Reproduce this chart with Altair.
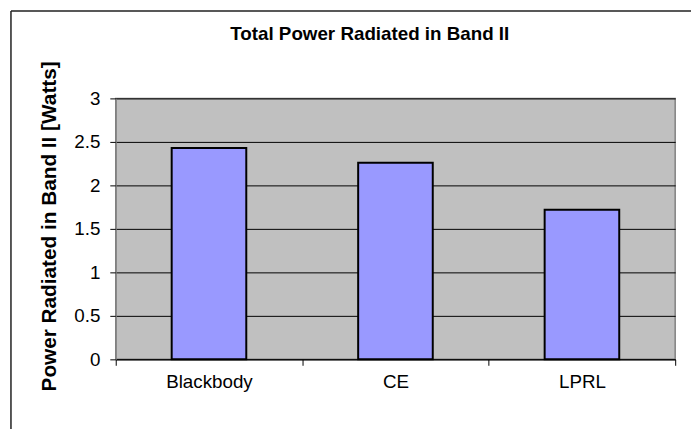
import altair as alt
import pandas as pd

categories = ["Blackbody", "CE", "LPRL"]
power_watts = [2.43, 2.26, 1.72]
y_ticks = [0, 0.5, 1, 1.5, 2, 2.5, 3]

title_text = "Total Power Radiated in Band II"
y_title = "Power Radiated in Band II [Watts]"

df = pd.DataFrame({"category": categories, "power": power_watts})
FONT = "Liberation Sans"

base = alt.Chart(df)

bars = base.mark_bar(
    color="#9999FF", stroke="black", strokeWidth=2,
    width=alt.RelativeBandSize(0.4)
).encode(
    x=alt.X("category:N", sort=categories, title=None,
            scale=alt.Scale(paddingInner=0, paddingOuter=0),
            axis=alt.Axis(labelAngle=0, tickBand="extent", grid=False,
                          domainColor="black", tickColor="black", tickSize=6,
                          labelPadding=7, labelFontSize=19, labelFont=FONT,
                          labelColor="black")),
    y=alt.Y("power:Q", title=y_title,
            scale=alt.Scale(domain=[0, 3], nice=False),
            axis=alt.Axis(values=y_ticks, format="~g", grid=True, gridColor="black",
                          gridWidth=1, domainColor="#808080", tickColor="black",
                          tickSize=6, labelPadding=10, labelFontSize=19,
                          labelFont=FONT, labelColor="black",
                          titleFont=FONT, titleFontSize=21, titleFontWeight="bold",
                          titleColor="black", titleAngle=-90, titleX=-67, titleY=129,
                          titleAlign="center", titleBaseline="middle")),
)

frame = alt.Chart(alt.Data(values=[{}]))
left_line = frame.mark_rule(color="#202020", strokeWidth=1.5).encode(
    x=alt.value(-106), y=alt.value(-88.5), y2=alt.value(345))
top_line = frame.mark_rule(color="#202020", strokeWidth=1.5).encode(
    x=alt.value(-106), x2=alt.value(600), y=alt.value(-88.5))

title = frame.mark_text(
    text=title_text, font=FONT, fontSize=19, fontWeight="bold",
    color="black", align="center", baseline="middle"
).encode(x=alt.value(257), y=alt.value(-65))

chart = alt.layer(bars, left_line, top_line, title).properties(
    width=566, height=264,
    autosize=alt.AutoSizeParams(type="none"),
    padding={"left": 109, "top": 89, "right": 16, "bottom": 68},
    background="white",
).configure_view(
    fill="#C0C0C0", stroke="#808080", strokeWidth=1.5
)

chart.save("out.html", embed_options={"renderer": "svg", "actions": False})
